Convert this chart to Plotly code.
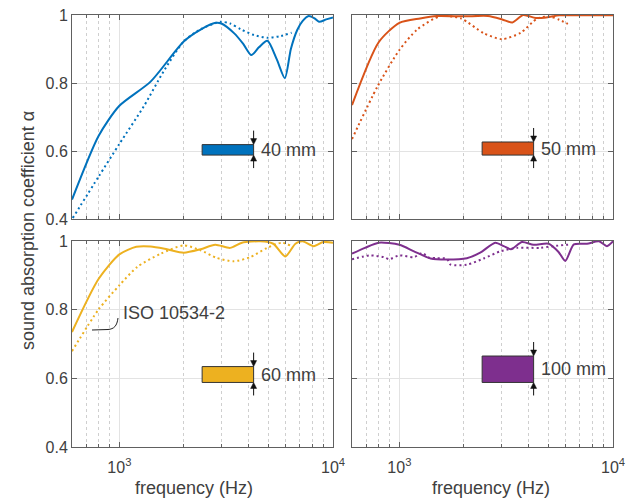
import math
import plotly.graph_objects as go

# ---------------- data ----------------
f_40_meas = [600, 800, 1000, 1400, 2000, 2400, 2820, 3000, 3450, 3800, 4150, 4500, 4930, 5450, 5950, 6350, 6800, 7200, 7700, 8200, 8600, 9300, 10000]
a_40_meas = [0.457, 0.645, 0.733, 0.804, 0.922, 0.957, 0.977, 0.975, 0.946, 0.915, 0.882, 0.905, 0.924, 0.870, 0.814, 0.900, 0.956, 0.982, 0.997, 0.990, 0.980, 0.987, 0.993]
f_40_iso = [605, 800, 1000, 1300, 1610, 2000, 2400, 2970, 3300, 3700, 4270, 4930, 5690, 6400]
a_40_iso = [0.403, 0.525, 0.621, 0.731, 0.834, 0.922, 0.958, 0.980, 0.975, 0.958, 0.941, 0.933, 0.938, 0.948]

f_50_meas = [600, 800, 1000, 1250, 1500, 2000, 2600, 3030, 3380, 3800, 4350, 5000, 5600, 7000, 10000]
a_50_meas = [0.735, 0.920, 0.977, 0.990, 0.997, 0.996, 0.997, 0.987, 0.978, 1.000, 0.991, 0.994, 0.999, 0.999, 0.999]
f_50_iso = [600, 790, 1000, 1210, 1560, 1940, 2490, 3030, 3700, 4430, 5100, 5600, 6150]
a_50_iso = [0.635, 0.790, 0.897, 0.957, 0.997, 0.990, 0.946, 0.929, 0.948, 0.990, 0.995, 0.986, 0.974]

f_60_meas = [600, 800, 1000, 1200, 1400, 1670, 2000, 2400, 2810, 3300, 3750, 4570, 5250, 5980, 6670, 7200, 8130, 9000, 10000]
a_60_meas = [0.735, 0.890, 0.961, 0.983, 0.984, 0.976, 0.966, 0.976, 0.989, 0.980, 0.995, 0.999, 0.992, 0.955, 0.992, 0.999, 0.985, 0.997, 0.995]
f_60_iso = [600, 800, 1000, 1210, 1560, 2000, 2400, 2850, 3430, 4100, 4910, 5770, 6310]
a_60_iso = [0.679, 0.801, 0.871, 0.924, 0.963, 0.987, 0.973, 0.951, 0.941, 0.953, 0.980, 0.995, 0.987]

f_100_meas = [600, 690, 800, 1000, 1170, 1400, 1670, 2070, 2390, 2810, 3080, 3330, 3750, 4250, 5000, 5560, 5980, 6560, 7550, 8600, 9370, 10000]
a_100_meas = [0.963, 0.980, 0.995, 0.989, 0.970, 0.949, 0.946, 0.950, 0.966, 0.995, 0.985, 0.976, 0.997, 0.989, 0.992, 0.968, 0.942, 0.990, 0.992, 0.999, 0.985, 0.999]
f_100_iso = [600, 730, 845, 895, 1000, 1170, 1280, 1370, 1500, 1670, 1730, 2070, 2480, 2970, 3560, 4570, 5250, 6310]
a_100_iso = [0.947, 0.958, 0.953, 0.947, 0.958, 0.953, 0.965, 0.952, 0.950, 0.948, 0.932, 0.931, 0.949, 0.970, 0.980, 0.980, 0.985, 0.990]

thickness_mm = [40, 50, 60, 100]
panel_labels = ["40 mm", "50 mm", "60 mm", "100 mm"]
colors = ["#0072BD", "#D95319", "#EDB120", "#7E2F8E"]
y_tick_vals = [0.4, 0.6, 0.8, 1.0]
y_tick_text = ["0.4", "0.6", "0.8", "1"]
x_tick_vals = [1000, 10000]
x_tick_text = ["10<sup>3</sup>", "10<sup>4</sup>"]
x_minor_vals = [600, 700, 800, 900, 2000, 3000, 4000, 5000, 6000, 7000, 8000, 9000]
x_title = "frequency (Hz)"
y_title = "sound absorption coefficient α"

# ---------------- figure ----------------
W, H = 635, 501
ML, MR, MT, MB = 72, 22, 15, 54
PW, PH = W - ML - MR, H - MT - MB

FONT = "Liberation Sans, Arial, Helvetica, sans-serif"
TXT = "#404040"
AX = "#606060"
X_LO, X_HI = math.log10(600), 4.0
Y_LO, Y_HI = 0.4, 1.0

xdom = [[0, 261 / PW], [280 / PW, 1]]
ydom = [[(H - MB - 219) / PH, 1], [0, (H - MB - 241) / PH]]

def px2paper(x, y):
    return (x - ML) / PW, (H - MB - y) / PH

def data2paper(f, a, col, row):
    d0, d1 = xdom[col]
    e0, e1 = ydom[row]
    xp = d0 + (math.log10(f) - X_LO) / (X_HI - X_LO) * (d1 - d0)
    yp = e0 + (a - Y_LO) / (Y_HI - Y_LO) * (e1 - e0)
    return xp, yp

fig = go.Figure()
series = [
    (f_40_meas, a_40_meas, f_40_iso, a_40_iso),
    (f_50_meas, a_50_meas, f_50_iso, a_50_iso),
    (f_60_meas, a_60_meas, f_60_iso, a_60_iso),
    (f_100_meas, a_100_meas, f_100_iso, a_100_iso),
]
for i, (fm, am, fi, ai) in enumerate(series):
    xa = "x" if i == 0 else f"x{i+1}"
    ya = "y" if i == 0 else f"y{i+1}"
    fig.add_trace(go.Scatter(x=fi, y=ai, mode="lines", xaxis=xa, yaxis=ya,
                             line=dict(color=colors[i], width=2, dash="2px,3px", shape="spline", smoothing=0.7),
                             showlegend=False, hoverinfo="skip"))
    fig.add_trace(go.Scatter(x=fm, y=am, mode="lines", xaxis=xa, yaxis=ya,
                             line=dict(color=colors[i], width=2, shape="spline", smoothing=0.7),
                             showlegend=False, hoverinfo="skip"))

def xaxis_cfg(dom, show_labels, anchor):
    return dict(type="log", range=[X_LO, X_HI], domain=dom, anchor=anchor,
                tickvals=x_tick_vals, ticktext=x_tick_text, showticklabels=show_labels,
                ticks="inside", ticklen=5, tickcolor=AX, tickwidth=1, ticklabelstandoff=6,
                showline=True, linecolor=AX, linewidth=1, mirror="allticks",
                showgrid=True, gridcolor="#e3e3e3", gridwidth=1, zeroline=False,
                tickfont=dict(family=FONT, size=16, color=TXT), automargin=False,
                minor=dict(tickvals=x_minor_vals, ticks="inside", ticklen=3, tickcolor=AX,
                           showgrid=True, gridcolor="#cfcfcf", griddash="dot", gridwidth=1))

def yaxis_cfg(dom, show_labels, anchor):
    return dict(range=[Y_LO, Y_HI], domain=dom, anchor=anchor,
                tickvals=y_tick_vals, ticktext=y_tick_text, showticklabels=show_labels,
                ticks="inside", ticklen=5, tickcolor=AX, tickwidth=1,
                showline=True, linecolor=AX, linewidth=1, mirror="allticks",
                showgrid=True, gridcolor="#e3e3e3", gridwidth=1, zeroline=False,
                tickfont=dict(family=FONT, size=16, color=TXT), automargin=False)

fig.update_layout(
    xaxis=xaxis_cfg(xdom[0], False, "y"),
    yaxis=yaxis_cfg(ydom[0], True, "x"),
    xaxis2=xaxis_cfg(xdom[1], False, "y2"),
    yaxis2=yaxis_cfg(ydom[0], False, "x2"),
    xaxis3=xaxis_cfg(xdom[0], True, "y3"),
    yaxis3=yaxis_cfg(ydom[1], True, "x3"),
    xaxis4=xaxis_cfg(xdom[1], True, "y4"),
    yaxis4=yaxis_cfg(ydom[1], False, "x4"),
)

# thickness rectangles, arrows, labels
rect_f0, rect_f1 = 2440, 4250
rect_base = 0.588
scale = 0.00077
shapes, annots = [], []
ppx = 1.0 / PW   # one pixel in paper x
ppy = 1.0 / PH   # one pixel in paper y
for i, t in enumerate(thickness_mm):
    col, row = i % 2, i // 2
    xa = "x" if i == 0 else f"x{i+1}"
    ya = "y" if i == 0 else f"y{i+1}"
    top = rect_base + t * scale
    shapes.append(dict(type="rect", xref=xa, yref=ya, x0=rect_f0, x1=rect_f1, y0=rect_base, y1=top,
                       fillcolor=colors[i], line=dict(color="#333333", width=1), layer="above"))
    xr, yt = data2paper(rect_f1, top, col, row)
    _, yb = data2paper(rect_f1, rect_base, col, row)
    shapes.append(dict(type="line", xref="paper", yref="paper", x0=xr, x1=xr, y0=yt + 14 * ppy, y1=yt + 4 * ppy,
                       line=dict(color="#111111", width=1)))
    shapes.append(dict(type="path", xref="paper", yref="paper",
                       path=f"M {xr - 3*ppx} {yt + 6*ppy} L {xr + 3*ppx} {yt + 6*ppy} L {xr} {yt} Z",
                       fillcolor="#111111", line=dict(color="#111111", width=0.5)))
    shapes.append(dict(type="line", xref="paper", yref="paper", x0=xr, x1=xr, y0=yb - 13 * ppy, y1=yb - 4 * ppy,
                       line=dict(color="#111111", width=1)))
    shapes.append(dict(type="path", xref="paper", yref="paper",
                       path=f"M {xr - 3*ppx} {yb - 6*ppy} L {xr + 3*ppx} {yb - 6*ppy} L {xr} {yb} Z",
                       fillcolor="#111111", line=dict(color="#111111", width=0.5)))
    annots.append(dict(xref=xa, yref=ya, x=math.log10(4480), y=(top + rect_base) / 2,
                       text=panel_labels[i], showarrow=False, xanchor="left", yanchor="middle",
                       font=dict(family=FONT, size=18, color=TXT)))

# ISO 10534-2 label with leader
tx, ty = px2paper(121, 313)
annots.append(dict(xref="paper", yref="paper", x=tx, y=ty, text="ISO 10534-2", showarrow=False,
                   xanchor="left", yanchor="middle", font=dict(family=FONT, size=18, color=TXT)))
p = [px2paper(*q) for q in [(118, 318), (117, 326), (114, 329), (108, 329.5), (92, 330)]]
path = (f"M {p[0][0]} {p[0][1]} C {p[1][0]} {p[1][1]}, {p[2][0]} {p[2][1]}, {p[3][0]} {p[3][1]} "
        f"L {p[4][0]} {p[4][1]}")
shapes.append(dict(type="path", xref="paper", yref="paper", path=path,
                   line=dict(color="#222222", width=1)))

# axis titles
yx, yy = px2paper(28, 231)
annots.append(dict(xref="paper", yref="paper", x=yx, y=yy, text=y_title,
                   textangle=-90, showarrow=False, xanchor="center", yanchor="middle",
                   font=dict(family=FONT, size=18, color=TXT)))
for cx in [194, 491]:
    ax_, ay_ = px2paper(cx, 488)
    annots.append(dict(xref="paper", yref="paper", x=ax_, y=ay_, text=x_title,
                       showarrow=False, xanchor="center", yanchor="middle",
                       font=dict(family=FONT, size=18, color=TXT)))

fig.update_layout(shapes=shapes, annotations=annots,
                  width=W, height=H, margin=dict(l=ML, r=MR, t=MT, b=MB),
                  paper_bgcolor="white", plot_bgcolor="white", showlegend=False)

fig.write_html("out.html", config={"displayModeBar": False},
               post_script="document.body.style.margin='0px';document.body.style.padding='0px';")
